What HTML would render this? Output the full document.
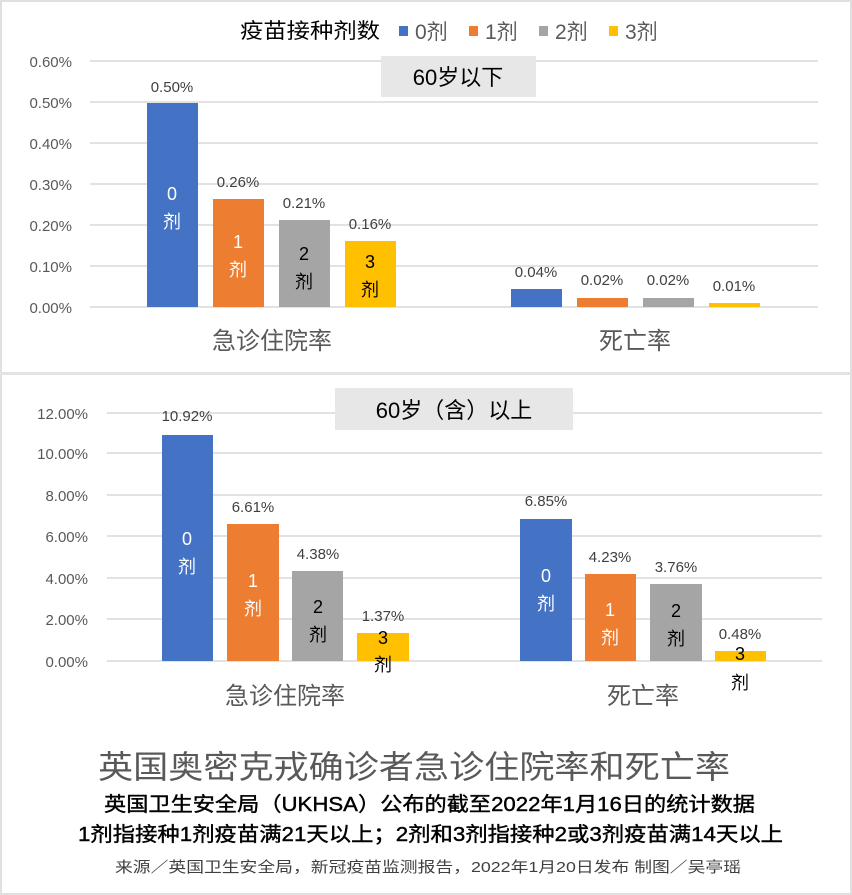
<!DOCTYPE html>
<html><head><meta charset="utf-8"><style>
html,body{margin:0;padding:0;background:#fff;}
svg{display:block;}
text{font-family:"Liberation Sans","Noto Sans CJK SC",sans-serif;}
</style></head><body>
<svg width="852" height="895" viewBox="0 0 852 895" xmlns="http://www.w3.org/2000/svg">
<rect x="1" y="1" width="850" height="893" fill="#fff" stroke="#e0e0e0" stroke-width="2"/>
<rect x="0" y="372" width="852" height="3" fill="#e3e3e3"/>

<!-- Legend -->
<text x="240" y="38" font-size="21" fill="#000" textLength="140" lengthAdjust="spacingAndGlyphs">疫苗接种剂数</text>
<rect x="399" y="26" width="9" height="10" fill="#4472c4"/>
<text x="415" y="39" font-size="21" fill="#595959">0剂</text>
<rect x="469" y="26" width="9" height="10" fill="#ed7d31"/>
<text x="485" y="39" font-size="21" fill="#595959">1剂</text>
<rect x="539" y="26" width="9" height="10" fill="#a5a5a5"/>
<text x="555" y="39" font-size="21" fill="#595959">2剂</text>
<rect x="609" y="26" width="9" height="10" fill="#ffc000"/>
<text x="625" y="39" font-size="21" fill="#595959">3剂</text>

<!-- Top chart grid -->
<g stroke="#d9d9d9" stroke-width="1.5">
<line x1="90" y1="61" x2="818" y2="61"/>
<line x1="90" y1="102" x2="818" y2="102"/>
<line x1="90" y1="143" x2="818" y2="143"/>
<line x1="90" y1="184" x2="818" y2="184"/>
<line x1="90" y1="225" x2="818" y2="225"/>
<line x1="90" y1="266" x2="818" y2="266"/>
<line x1="90" y1="307" x2="818" y2="307"/>
</g>
<g font-size="15" fill="#595959" text-anchor="end">
<text x="72" y="67">0.60%</text>
<text x="72" y="108">0.50%</text>
<text x="72" y="149">0.40%</text>
<text x="72" y="190">0.30%</text>
<text x="72" y="231">0.20%</text>
<text x="72" y="272">0.10%</text>
<text x="72" y="313">0.00%</text>
</g>
<rect x="381" y="56" width="155" height="41" fill="#e7e7e7"/>
<text x="458" y="85" font-size="22" fill="#000" text-anchor="middle">60岁以下</text>

<rect x="147" y="103" width="51" height="204" fill="#4472c4"/>
<rect x="213" y="199" width="51" height="108" fill="#ed7d31"/>
<rect x="279" y="220" width="51" height="87" fill="#a5a5a5"/>
<rect x="345" y="241" width="51" height="66" fill="#ffc000"/>
<rect x="511" y="289" width="51" height="18" fill="#4472c4"/>
<rect x="577" y="298" width="51" height="9" fill="#ed7d31"/>
<rect x="643" y="298" width="51" height="9" fill="#a5a5a5"/>
<rect x="709" y="303" width="51" height="4" fill="#ffc000"/>
<g font-size="15" fill="#404040" text-anchor="middle">
<text x="172" y="92">0.50%</text>
<text x="238" y="187">0.26%</text>
<text x="304" y="208">0.21%</text>
<text x="370" y="229">0.16%</text>
<text x="536" y="277">0.04%</text>
<text x="602" y="285">0.02%</text>
<text x="668" y="285">0.02%</text>
<text x="734" y="291">0.01%</text>
</g>
<g font-size="18" text-anchor="middle">
<text x="172" y="200" fill="#fff">0</text><text x="172" y="228" fill="#fff">剂</text>
<text x="238" y="248" fill="#fff">1</text><text x="238" y="276" fill="#fff">剂</text>
<text x="304" y="260" fill="#000">2</text><text x="304" y="288" fill="#000">剂</text>
<text x="370" y="268" fill="#000">3</text><text x="370" y="296" fill="#000">剂</text>
</g>
<text x="272" y="349" font-size="24" fill="#595959" text-anchor="middle">急诊住院率</text>
<text x="635" y="349" font-size="24" fill="#595959" text-anchor="middle">死亡率</text>

<!-- Bottom chart -->
<g stroke="#d9d9d9" stroke-width="1.5">
<line x1="107" y1="413" x2="822" y2="413"/>
<line x1="107" y1="453" x2="822" y2="453"/>
<line x1="107" y1="495" x2="822" y2="495"/>
<line x1="107" y1="536" x2="822" y2="536"/>
<line x1="107" y1="578" x2="822" y2="578"/>
<line x1="107" y1="619" x2="822" y2="619"/>
<line x1="107" y1="661" x2="822" y2="661"/>
</g>
<g font-size="15" fill="#595959" text-anchor="end">
<text x="88" y="419">12.00%</text>
<text x="88" y="459">10.00%</text>
<text x="88" y="501">8.00%</text>
<text x="88" y="542">6.00%</text>
<text x="88" y="584">4.00%</text>
<text x="88" y="625">2.00%</text>
<text x="88" y="667">0.00%</text>
</g>
<rect x="335" y="388" width="238" height="42" fill="#e7e7e7"/>
<text x="454" y="418" font-size="22" fill="#000" text-anchor="middle">60岁（含）以上</text>

<rect x="162" y="435" width="51" height="226" fill="#4472c4"/>
<rect x="227" y="524" width="52" height="137" fill="#ed7d31"/>
<rect x="292" y="571" width="51" height="90" fill="#a5a5a5"/>
<rect x="357" y="633" width="52" height="28" fill="#ffc000"/>
<rect x="520" y="519" width="52" height="142" fill="#4472c4"/>
<rect x="585" y="574" width="51" height="87" fill="#ed7d31"/>
<rect x="650" y="584" width="52" height="77" fill="#a5a5a5"/>
<rect x="715" y="651" width="51" height="10" fill="#ffc000"/>
<g font-size="15" fill="#404040" text-anchor="middle">
<text x="187" y="421">10.92%</text>
<text x="253" y="512">6.61%</text>
<text x="318" y="559">4.38%</text>
<text x="383" y="621">1.37%</text>
<text x="546" y="506">6.85%</text>
<text x="610" y="562">4.23%</text>
<text x="676" y="572">3.76%</text>
<text x="740" y="639">0.48%</text>
</g>
<g font-size="18" text-anchor="middle">
<text x="187" y="545" fill="#fff">0</text><text x="187" y="573" fill="#fff">剂</text>
<text x="253" y="587" fill="#fff">1</text><text x="253" y="615" fill="#fff">剂</text>
<text x="318" y="613" fill="#000">2</text><text x="318" y="641" fill="#000">剂</text>
<text x="383" y="644" fill="#000">3</text><text x="383" y="671" fill="#000">剂</text>
<text x="546" y="582" fill="#fff">0</text><text x="546" y="610" fill="#fff">剂</text>
<text x="610" y="616" fill="#fff">1</text><text x="610" y="644" fill="#fff">剂</text>
<text x="676" y="617" fill="#000">2</text><text x="676" y="645" fill="#000">剂</text>
<text x="740" y="660" fill="#000">3</text><text x="740" y="689" fill="#000">剂</text>
</g>
<text x="285" y="704" font-size="24" fill="#595959" text-anchor="middle">急诊住院率</text>
<text x="643" y="704" font-size="24" fill="#595959" text-anchor="middle">死亡率</text>

<!-- Titles -->
<text x="98" y="778" font-size="32" fill="#595959" textLength="632" lengthAdjust="spacingAndGlyphs">英国奥密克戎确诊者急诊住院率和死亡率</text>
<text x="104" y="811" font-size="20" fill="#000" stroke="#000" stroke-width="0.4" textLength="651" lengthAdjust="spacingAndGlyphs">英国卫生安全局（UKHSA）公布的截至2022年1月16日的统计数据</text>
<text x="78" y="841" font-size="20" fill="#000" stroke="#000" stroke-width="0.4" textLength="705" lengthAdjust="spacingAndGlyphs">1剂指接种1剂疫苗满21天以上；2剂和3剂指接种2或3剂疫苗满14天以上</text>
<text x="115" y="872" font-size="15" fill="#404040" textLength="626" lengthAdjust="spacingAndGlyphs">来源／英国卫生安全局，新冠疫苗监测报告，2022年1月20日发布  制图／吴亭瑶</text>
</svg>
</body></html>
